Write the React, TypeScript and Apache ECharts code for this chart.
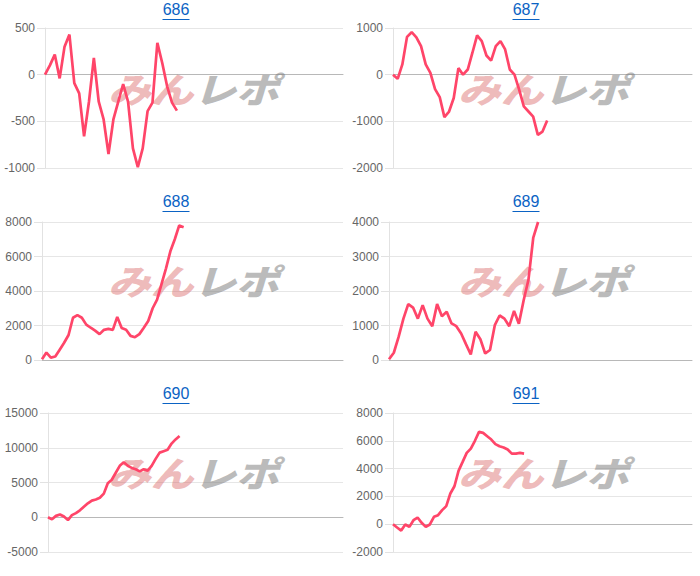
import React, { useEffect, useRef } from "react";
import * as echarts from "echarts";

const titles = ["686", "687", "688", "689", "690", "691"];
const yMin = [-1000, -2000, 0, 0, -5000, -2000];
const yMax = [500, 1000, 8000, 4000, 15000, 8000];
const yStep = [500, 1000, 2000, 1000, 5000, 2000];
const slotCounts = [62, 65, 69, 64, 75, 74];

const series686 = [0, 100, 215, -40, 300, 430, -90, -200, -660, -290, 180, -290, -480, -850, -480, -290, -100, -290, -790, -990, -790, -390, -300, 340, 125, -125, -300, -385];
const series687 = [0, -90, 220, 810, 910, 800, 610, 220, 40, -310, -480, -910, -790, -500, 140, 0, 110, 470, 840, 720, 410, 300, 610, 720, 540, 110, 0, -320, -680, -790, -900, -1290, -1220, -980];
const series688 = [40, 430, 140, 200, 600, 1000, 1450, 2450, 2600, 2450, 2050, 1870, 1700, 1500, 1750, 1800, 1750, 2500, 1850, 1750, 1400, 1320, 1500, 1870, 2260, 3000, 3500, 4400, 5300, 6300, 7000, 7800, 7700];
const series689 = [20, 210, 670, 1200, 1620, 1520, 1200, 1590, 1200, 980, 1620, 1270, 1400, 1060, 980, 770, 460, 160, 820, 600, 190, 290, 1010, 1290, 1200, 980, 1420, 1050, 1730, 2330, 3550, 4000];
const series690 = [0, -300, 200, 400, 100, -400, 300, 600, 1000, 1500, 2000, 2400, 2550, 2800, 3400, 4900, 5400, 6400, 7400, 7900, 7400, 7100, 6900, 6600, 6900, 6700, 7400, 8400, 9300, 9500, 9700, 10600, 11200, 11700];
const series691 = [0, -240, -460, -20, -190, 290, 480, 100, -190, -20, 530, 650, 1010, 1300, 2210, 2730, 3840, 4480, 5130, 5440, 6000, 6640, 6570, 6330, 6090, 5760, 5610, 5520, 5370, 5080, 5080, 5130, 5080];

const allSeries = [series686, series687, series688, series689, series690, series691];

const LINE_COLOR = "#ff4569";
const FONT = "'Liberation Sans', Arial, sans-serif";

export default function App() {
  const ref = useRef<HTMLDivElement>(null);

  useEffect(() => {
    if (!ref.current) return;
    const chart = echarts.init(ref.current, undefined, { renderer: "svg" });

    const boxes = [
      { left: 45, top: 28, width: 298, height: 140 },
      { left: 393, top: 28, width: 299, height: 140 },
      { left: 42, top: 222, width: 301, height: 138 },
      { left: 389, top: 222, width: 303, height: 138 },
      { left: 48, top: 413, width: 295, height: 139 },
      { left: 393, top: 413, width: 299, height: 139 },
    ];
    const panelX = [0, 350, 0, 350, 0, 350];
    const panelY = [0, 0, 192, 192, 384, 384];

    const graphic: any[] = [];
    titles.forEach((t, i) => {
      const cx = panelX[i] + 176;
      const cy = panelY[i] + 9.5;
      graphic.push({
        type: "text",
        x: cx,
        y: cy,
        silent: true,
        style: {
          text: t,
          fill: "#0b63c4",
          font: `16px ${FONT}`,
          align: "center",
          verticalAlign: "middle",
        },
      });
      graphic.push({
        type: "line",
        silent: true,
        shape: { x1: cx - 13.5, y1: panelY[i] + 19.5, x2: cx + 13.5, y2: panelY[i] + 19.5 },
        style: { stroke: "#0b63c4", lineWidth: 1 },
      });
      graphic.push({
        type: "text",
        x: panelX[i] + 108,
        y: panelY[i] + 70,
        scaleX: 1.22,
        silent: true,
        z: 1,
        style: {
          text: "{a|みん}{b|レポ}",
          verticalAlign: "top",
          rich: {
            a: {
              fill: "rgba(214, 90, 90, 0.42)",
              fontSize: 35,
              fontWeight: 900,
              fontStyle: "italic",
              fontFamily: "'Noto Sans CJK JP'",
            },
            b: {
              fill: "rgba(120, 120, 120, 0.5)",
              fontSize: 35,
              fontWeight: 900,
              fontStyle: "italic",
              fontFamily: "'Noto Sans CJK JP'",
            },
          },
        },
      });
    });

    const option: any = {
      animation: false,
      backgroundColor: "#ffffff",
      grid: boxes.map((b) => ({ ...b, containLabel: false })),
      xAxis: boxes.map((_, i) => ({
        type: "category",
        gridIndex: i,
        boundaryGap: false,
        data: Array.from({ length: slotCounts[i] }, (_, k) => String(k + 1)),
        axisLine: { show: true, onZero: true, lineStyle: { color: "#b8b8b8", width: 1 } },
        axisTick: { show: false },
        axisLabel: { show: false },
        splitLine: { show: false },
      })),
      yAxis: boxes.map((_, i) => ({
        type: "value",
        gridIndex: i,
        min: yMin[i],
        max: yMax[i],
        interval: yStep[i],
        axisLine: { show: true, lineStyle: { color: "#e2e2e2" } },
        axisTick: { show: true, length: 8, lineStyle: { color: "#e2e2e2" } },
        axisLabel: {
          color: "#666666",
          fontSize: 12,
          fontFamily: FONT,
          margin: 10,
          formatter: (v: number) => String(v),
        },
        splitLine: { show: true, lineStyle: { color: "#e6e6e6", width: 1 } },
      })),
      series: allSeries.map((d, i) => ({
        type: "line",
        xAxisIndex: i,
        yAxisIndex: i,
        data: d,
        showSymbol: false,
        symbol: "none",
        smooth: false,
        z: 3,
        lineStyle: { color: LINE_COLOR, width: 2.7 },
      })),
      graphic,
    };

    chart.setOption(option);
    return () => chart.dispose();
  }, []);

  return (
    <div
      ref={ref}
      style={{ position: "absolute", left: 0, top: 0, width: 700, height: 576 }}
    />
  );
}
